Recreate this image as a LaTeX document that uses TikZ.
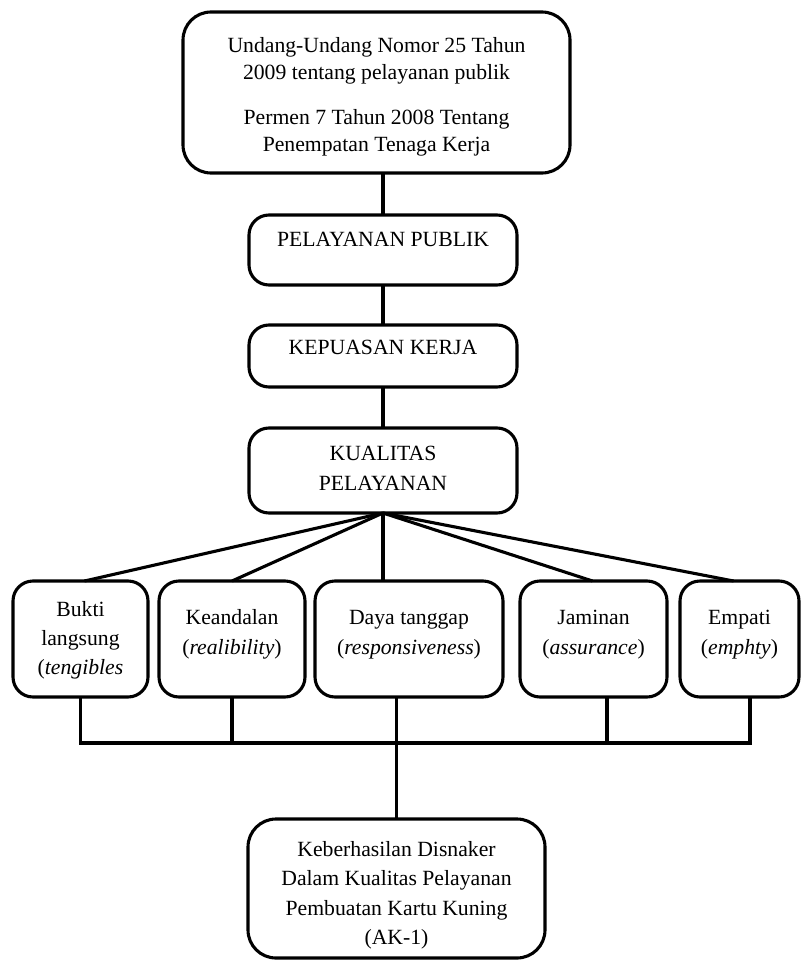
\documentclass[tikz,border=0pt]{standalone}
\usepackage{fontspec}
\setmainfont{Liberation Serif}
\newcommand{\bxt}[5]{\parbox[c][#2pt][t]{#1pt}{\centering\fontsize{21.7}{#4}\selectfont\vspace*{#3pt}\strut #5\par}}
\begin{document}
\begin{tikzpicture}[x=1pt,y=-1pt,
  box/.style={draw, line width=3.1pt, rounded corners=20pt, inner sep=0pt, outer sep=0pt},
  bigbox/.style={box, rounded corners=28pt},
  conn/.style={line width=3.1pt}]
\useasboundingbox (0,0) rectangle (802,960);

\node[bigbox] (top) at (376.5,92.5) {\bxt{387}{161}{22}{27}{Undang-Undang Nomor 25 Tahun\\2009 tentang pelayanan publik\par\vspace{18pt}Permen 7 Tahun 2008 Tentang\\Penempatan Tenaga Kerja}};
\node[box] (pp) at (383,250) {\bxt{268}{70}{13}{27}{PELAYANAN PUBLIK}};
\node[box] (kk) at (383,356) {\bxt{268}{62}{11}{27}{KEPUASAN KERJA}};
\node[box] (kp) at (383,470.5) {\bxt{268}{85}{11}{30}{KUALITAS\\PELAYANAN}};

\node[box] (b1) at (80.5,639) {\bxt{135}{116}{15}{29}{Bukti\\langsung\\(\textit{tengibles}}};
\node[box] (b2) at (232,639) {\bxt{146}{116}{22}{30}{Keandalan\\(\textit{realibility})}};
\node[box] (b3) at (409,639) {\bxt{188}{116}{22}{30}{Daya tanggap\\(\textit{responsiveness})}};
\node[box] (b4) at (593.5,639) {\bxt{147}{116}{22}{30}{Jaminan\\(\textit{assurance})}};
\node[box] (b5) at (739.5,639) {\bxt{119}{116}{22}{30}{Empati\\(\textit{emphty})}};

\node[bigbox] (fin) at (396.5,888.5) {\bxt{297}{139}{17}{29.3}{Keberhasilan Disnaker\\Dalam Kualitas Pelayanan\\Pembuatan Kartu Kuning\\(AK-1)}};

\draw[conn] (top.south -| pp.north) -- (pp.north);
\draw[conn] (pp.south) -- (kk.north);
\draw[conn] (kk.south) -- (kp.north);

\draw[conn] (kp.south) -- ([xshift=4]b1.north);
\draw[conn] (kp.south) -- (b2.north);
\draw[conn] (kp.south) -- (kp.south |- b3.north);
\draw[conn] (kp.south) -- ([xshift=-1]b4.north);
\draw[conn] (kp.south) -- ([xshift=-6]b5.north);

\coordinate (bary) at (0,743);
\draw[conn] (b1.south) -- (b1.south |- bary) -- ([xshift=10.5]b5.south |- bary) -- ([xshift=10.5]b5.south);
\draw[conn] (b2.south) -- (b2.south |- bary);
\draw[conn] (fin.north |- b3.south) -- (fin.north);
\draw[conn] ([xshift=13.5]b4.south) -- ([xshift=13.5]b4.south |- bary);
\end{tikzpicture}
\end{document}
